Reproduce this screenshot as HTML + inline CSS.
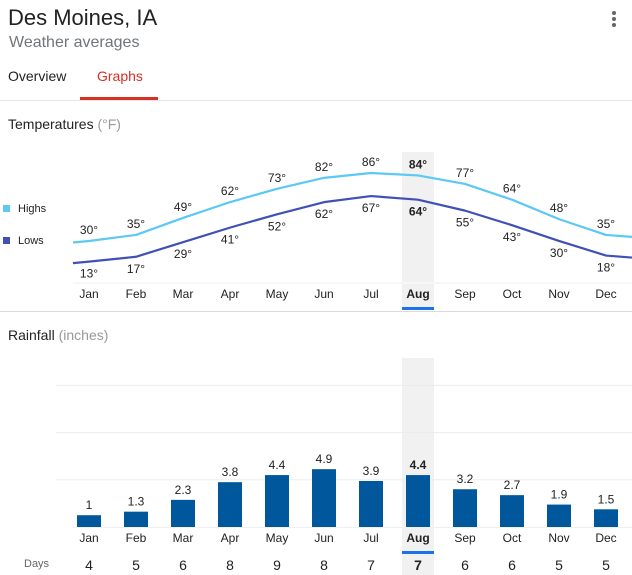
<!DOCTYPE html>
<html><head><meta charset="utf-8"><style>
body{margin:0;width:632px;height:575px;overflow:hidden;background:#fff;font-family:"Liberation Sans",Arial,sans-serif;color:#222;position:relative}
.abs{position:absolute}
</style></head><body>
<div class="abs" style="left:8px;top:5px;font-size:22px;color:#222">Des Moines, IA</div>
<div class="abs" style="left:9px;top:34px;font-size:16px;color:#70757a">Weather averages</div>
<div class="abs" style="left:612px;top:10px;width:6px;height:20px">
<div style="width:4px;height:4px;border-radius:2px;background:#666;margin:1px 0 2px"></div><div style="width:4px;height:4px;border-radius:2px;background:#666;margin-bottom:2px"></div><div style="width:4px;height:4px;border-radius:2px;background:#666"></div></div>
<div class="abs" style="left:8px;top:68px;font-size:14px;color:#222">Overview</div>
<div class="abs" style="left:97px;top:68px;font-size:14px;color:#d93025">Graphs</div>
<div class="abs" style="left:80px;top:97px;width:78px;height:3px;background:#d93025"></div>
<div class="abs" style="left:0;top:100px;width:632px;height:1px;background:#e6e6e6"></div>
<div class="abs" style="left:8px;top:116px;font-size:14px">Temperatures <span style="color:#999">(°F)</span></div>
<div class="abs" style="left:0;top:311px;width:632px;height:1px;background:#dadada"></div>
<div class="abs" style="left:8px;top:327px;font-size:14px">Rainfall <span style="color:#999">(inches)</span></div>
<svg id="chart" class="abs" style="left:0;top:0" width="632" height="575"></svg>
<script>
const months=["Jan","Feb","Mar","Apr","May","Jun","Jul","Aug","Sep","Oct","Nov","Dec"];
const highs=[30,35,49,62,73,82,86,84,77,64,48,35];
const lows=[13,17,29,41,52,62,67,64,55,43,30,18];
const rain=[1,1.3,2.3,3.8,4.4,4.9,3.9,4.4,3.2,2.7,1.9,1.5];
const rainLabels=["1","1.3","2.3","3.8","4.4","4.9","3.9","4.4","3.2","2.7","1.9","1.5"];
const days=[4,5,6,8,9,8,7,7,6,6,5,5];
const selected=7;
const NS="http://www.w3.org/2000/svg";
const svg=document.getElementById('chart');
function mk(t,a,p){const e=document.createElementNS(NS,t);for(const k in a)e.setAttribute(k,a[k]);(p||svg).appendChild(e);return e;}
const xM=i=>89+47*i;
const yT=v=>277.4-1.214*v;
const yR=v=>527-11.8*v;
// highlight bands
let b1=mk('rect',{x:402,y:152,width:32,height:156,fill:'#f1f1f1'});


let b2=mk('rect',{x:402,y:358,width:32,height:217,fill:'#f1f1f1'});


// legend
let l1=mk('rect',{x:3,y:205,width:7,height:7,fill:'#5bc8f5'});


let lt1=mk('text',{x:18,y:212,'font-size':11,fill:'#222'});lt1.textContent='Highs';


let l2=mk('rect',{x:3,y:237,width:7,height:7,fill:'#3f51b5'});


let lt2=mk('text',{x:18,y:244,'font-size':11,fill:'#222'});lt2.textContent='Lows';


// temp baseline
mk('rect',{x:73,y:282,width:559,height:2,fill:'#f7f7f7'});
function line(arr,color,name){
  let pts=[[73,yT(arr[0])+1.5]];
  arr.forEach((v,i)=>pts.push([xM(i),yT(v)]));
  pts.push([632,yT(arr[11])+2]);
  let p=mk('polyline',{points:pts.map(p=>p.join(',')).join(' '),fill:'none',stroke:color,'stroke-width':2.2,'stroke-linejoin':'round'});
  
  
}
line(highs,'#5bc8f5','highs-line');
line(lows,'#3f51b5','lows-line');
highs.forEach((v,i)=>{let t=mk('text',{x:xM(i),y:yT(v)-7,'text-anchor':'middle','font-size':12,fill:'#222','font-weight':i==selected?'bold':'normal'});t.textContent=v+'°';

});
lows.forEach((v,i)=>{let t=mk('text',{x:xM(i),y:yT(v)+16,'text-anchor':'middle','font-size':12,fill:'#222','font-weight':i==selected?'bold':'normal'});t.textContent=v+'°';

});
months.forEach((m,i)=>{let t=mk('text',{x:xM(i),y:298,'text-anchor':'middle','font-size':12,fill:'#222','font-weight':i==selected?'bold':'normal'});t.textContent=m;

});
let u1=mk('rect',{x:402,y:307,width:32,height:3,fill:'#1a73e8'});


// rain gridlines
[4,8,12].forEach(v=>{let g=mk('rect',{x:56,y:yR(v)-0.5,width:576,height:1,fill:'#ececec'});

});
mk('rect',{x:73,y:527,width:559,height:1,fill:'#f0f0f0'});
rain.forEach((v,i)=>{
  let r=mk('rect',{x:xM(i)-12,y:yR(v),width:24,height:527-yR(v),fill:'#01579b'});
  
  
  let t=mk('text',{x:xM(i),y:yR(v)-6,'text-anchor':'middle','font-size':12,fill:'#222','font-weight':i==selected?'bold':'normal'});t.textContent=rainLabels[i];
  
  
  let m=mk('text',{x:xM(i),y:542,'text-anchor':'middle','font-size':12,fill:'#222','font-weight':i==selected?'bold':'normal'});m.textContent=months[i];
  
  
  let d=mk('text',{x:xM(i),y:570,'text-anchor':'middle','font-size':14,fill:'#222','font-weight':i==selected?'bold':'normal'});d.textContent=days[i];
  
  
});
let dl=mk('text',{x:24,y:567,'font-size':11,fill:'#666'});dl.textContent='Days';


let u2=mk('rect',{x:402,y:551,width:32,height:3,fill:'#1a73e8'});


</script>
</body></html>
